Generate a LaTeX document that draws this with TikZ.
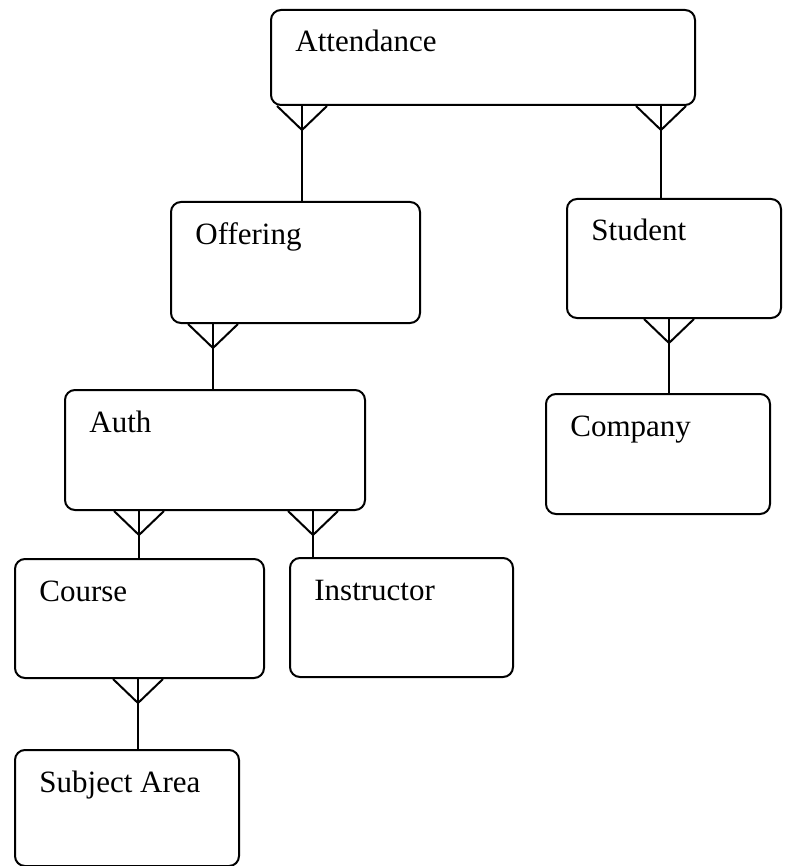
\documentclass[tikz,border=0pt]{standalone}
\usepackage{fontspec}
\setmainfont{Liberation Serif}
\usepackage{tikz}
\usetikzlibrary{positioning}

\tikzset{
    entity/.style={draw, line width=1pt, rounded corners=5pt, inner sep=0pt, anchor=north west},
    title/.style={anchor=base west, inner sep=0pt, font=\fontsize{15.5}{18}\selectfont},
    link/.style={line width=1pt}
}

% box with its name in the top left corner
\newcommand{\entity}[6]{%
    \node[entity, minimum width=#4, minimum height=#5] (#1) at (#2,#3) {};
    \node[title] (#1-t) at ([xshift=12.5pt,yshift=-21.5pt]#1.north west) {#6};
}
% many end at the parent, one end at the child
\newcommand{\crow}[3]{%
    \draw[link] (#1.south -| #3,0) coordinate (top) -- (#2.north -| #3,0);
    \draw[link] ([xshift=-12.5pt]top) -- ([yshift=-12pt]top) -- ([xshift=12.5pt]top);
}

\begin{document}
\begin{tikzpicture}[x=0.5pt,y=-0.5pt]
    \useasboundingbox (0,0) rectangle (785,866);
    \entity{attendance}{270}{9}{212pt}{47.5pt}{Attendance}
    \entity{offering}{170}{201}{124.5pt}{60.5pt}{Offering}
    \entity{student}{566}{198}{107pt}{59.5pt}{Student}
    \entity{auth}{64}{389}{150pt}{60pt}{Auth}
    \entity{company}{545}{393}{112pt}{60pt}{Company}
    \entity{course}{14}{558}{124.5pt}{59.5pt}{Course}
    \entity{instructor}{289}{557}{111.5pt}{59.5pt}{Instructor}
    \entity{subject}{14}{749}{112pt}{58pt}{Subject Area}

    \crow{attendance}{offering}{302}
    \crow{attendance}{student}{661}
    \crow{offering}{auth}{213}
    \crow{student}{company}{669}
    \crow{auth}{course}{139}
    \crow{auth}{instructor}{313}
    \crow{course}{subject}{138}
\end{tikzpicture}
\end{document}
